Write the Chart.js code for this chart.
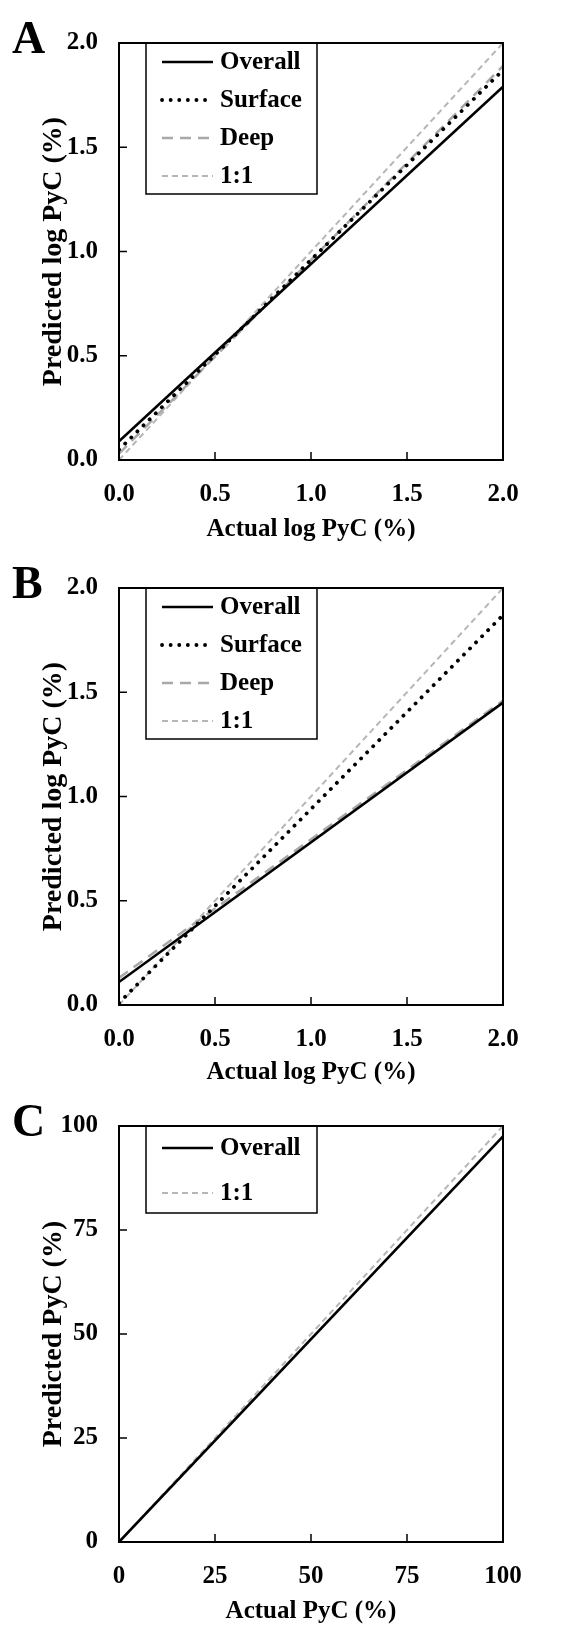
<!DOCTYPE html>
<html lang="en">
<head>
<meta charset="utf-8" />
<title>Predicted vs actual PyC</title>
<script src="https://cdn.jsdelivr.net/npm/chart.js@4.4.0/dist/chart.umd.min.js"></script>
<style>
  body { margin: 0; background: #fff; }
  canvas { position: absolute; left: 0; }
</style>
</head>
<body>
<canvas id="chartA" style="top:0" width="588" height="545"></canvas>
<canvas id="chartB" style="top:545px" width="588" height="545"></canvas>
<canvas id="chartC" style="top:1090px" width="588" height="537"></canvas>
<script>
// x end points of each fitted line (actual values)
const actualLog = [0, 2];
const actualPct = [0, 100];

// panel A - predicted log PyC
const overallA = [0.09, 1.79];
const surfaceA = [0.05, 1.87];
const deepA = [0.03, 1.89];
const oneToOneA = [0, 2];

// panel B - predicted log PyC
const overallB = [0.11, 1.45];
const surfaceB = [0.01, 1.87];
const deepB = [0.13, 1.46];
const oneToOneB = [0, 2];

// panel C - predicted PyC
const overallC = [0, 97.5];
const oneToOneC = [0, 100];

const logTicks = [0, 0.5, 1, 1.5, 2];
const pctTicks = [0, 25, 50, 75, 100];

const FONT = '"Liberation Serif", "Times New Roman", serif';
Chart.defaults.font.family = FONT;
Chart.defaults.font.weight = "bold";
Chart.defaults.font.size = 25;
Chart.defaults.color = "#000";

const styles = {
  Overall: { borderColor: "#000", borderWidth: 2.6 },
  Surface: { borderColor: "#000", borderWidth: 3.8, borderDash: [0.1, 8.5], borderCapStyle: "round" },
  Deep: { borderColor: "#a8a8a8", borderWidth: 2.5, borderDash: [11, 7] },
  "1:1": { borderColor: "#b6b6b6", borderWidth: 2, borderDash: [6, 4] },
};

function series(label, xs, ys) {
  return Object.assign(
    { label: label, data: xs.map((x, i) => ({ x: x, y: ys[i] })), pointRadius: 0, tension: 0, fill: false },
    styles[label]
  );
}

// frame, inward tick marks and panel letter
const frame = {
  id: "frame",
  afterDraw(chart, args, o) {
    const { ctx, chartArea: a } = chart;
    ctx.save();
    ctx.strokeStyle = "#000";
    ctx.lineWidth = 1.5;
    ctx.beginPath();
    for (const t of chart.scales.x.ticks) {
      const px = chart.scales.x.getPixelForValue(t.value);
      if (px <= a.left + 1 || px >= a.right - 1) continue;
      ctx.moveTo(px, a.bottom);
      ctx.lineTo(px, a.bottom - 8);
    }
    for (const t of chart.scales.y.ticks) {
      const py = chart.scales.y.getPixelForValue(t.value);
      if (py <= a.top + 1 || py >= a.bottom - 1) continue;
      ctx.moveTo(a.left, py);
      ctx.lineTo(a.left + 8, py);
    }
    ctx.stroke();
    ctx.lineWidth = 2;
    ctx.strokeRect(a.left, a.top, a.right - a.left, a.bottom - a.top);
    ctx.fillStyle = "#000";
    ctx.font = "bold 46px " + FONT;
    ctx.textAlign = "left";
    ctx.textBaseline = "alphabetic";
    ctx.fillText(o.letter, 12, a.top + 10);
    ctx.restore();
  },
};

// legend box inside the plot area
const boxLegend = {
  id: "boxLegend",
  afterDatasetsDraw(chart, args, o) {
    const { ctx, chartArea: a } = chart;
    const x0 = a.left + 27, y0 = a.top, w = 171;
    ctx.save();
    ctx.fillStyle = "#fff";
    ctx.fillRect(x0, y0, w, o.height);
    ctx.strokeStyle = "#000";
    ctx.lineWidth = 1.5;
    ctx.strokeRect(x0, y0, w, o.height);
    chart.data.datasets.forEach((ds, i) => {
      const y = y0 + o.first + i * o.gap;
      ctx.beginPath();
      ctx.strokeStyle = ds.borderColor;
      ctx.lineWidth = ds.borderWidth;
      ctx.setLineDash(ds.borderDash || []);
      ctx.lineCap = ds.borderCapStyle || "butt";
      ctx.moveTo(x0 + 16, y);
      ctx.lineTo(x0 + 67, y);
      ctx.stroke();
      ctx.setLineDash([]);
      ctx.fillStyle = "#000";
      ctx.font = "bold 25px " + FONT;
      ctx.textAlign = "left";
      ctx.textBaseline = "middle";
      ctx.fillText(ds.label, x0 + 74, y + 1);
    });
    ctx.restore();
  },
};

function panel(id, letter, datasets, p) {
  new Chart(document.getElementById(id), {
    type: "line",
    data: { datasets: datasets },
    options: {
      responsive: false,
      animation: false,
      devicePixelRatio: 1,
      layout: { padding: { top: p.top, right: 85, left: 0, bottom: 0 } },
      plugins: {
        legend: { display: false },
        tooltip: { enabled: false },
        frame: { letter: letter },
        boxLegend: p.legend,
      },
      scales: {
        x: {
          type: "linear",
          min: p.tickVals[0],
          max: p.tickVals[p.tickVals.length - 1],
          afterBuildTicks: (s) => { s.ticks = p.tickVals.map((v) => ({ value: v })); },
          afterFit: (s) => { s.height = 85; },
          ticks: { padding: 20, maxRotation: 0, autoSkip: false, callback: p.fmt },
          grid: { display: false, drawTicks: false },
          border: { display: false },
          title: { display: true, text: p.xTitle, padding: { top: 0, bottom: p.xTitlePad } },
        },
        y: {
          type: "linear",
          min: p.tickVals[0],
          max: p.tickVals[p.tickVals.length - 1],
          afterBuildTicks: (s) => { s.ticks = p.tickVals.map((v) => ({ value: v })); },
          afterFit: (s) => { s.width = 119; },
          ticks: { padding: 21, autoSkip: false, callback: p.fmt },
          grid: { display: false, drawTicks: false },
          border: { display: false },
          title: { display: true, text: p.yTitle, font: { size: 28 }, padding: { top: 37, bottom: 0 } },
        },
      },
    },
    plugins: [frame, boxLegend],
  });
}

const fmtLog = (v) => Number(v).toFixed(1);
const fmtPct = (v) => String(v);

panel("chartA", "A", [
  series("Overall", actualLog, overallA),
  series("Surface", actualLog, surfaceA),
  series("Deep", actualLog, deepA),
  series("1:1", actualLog, oneToOneA),
], {
  top: 43, tickVals: logTicks, fmt: fmtLog, xTitlePad: 0,
  xTitle: "Actual log PyC (%)", yTitle: "Predicted log PyC (%)",
  legend: { height: 151, first: 19, gap: 38 },
});

panel("chartB", "B", [
  series("Overall", actualLog, overallB),
  series("Surface", actualLog, surfaceB),
  series("Deep", actualLog, deepB),
  series("1:1", actualLog, oneToOneB),
], {
  top: 43, tickVals: logTicks, fmt: fmtLog, xTitlePad: 2,
  xTitle: "Actual log PyC (%)", yTitle: "Predicted log PyC (%)",
  legend: { height: 151, first: 19, gap: 38 },
});

panel("chartC", "C", [
  series("Overall", actualPct, overallC),
  series("1:1", actualPct, oneToOneC),
], {
  top: 35, tickVals: pctTicks, fmt: fmtPct, xTitlePad: 0,
  xTitle: "Actual PyC (%)", yTitle: "Predicted PyC (%)",
  legend: { height: 87, first: 22, gap: 45 },
});
</script>
</body>
</html>
